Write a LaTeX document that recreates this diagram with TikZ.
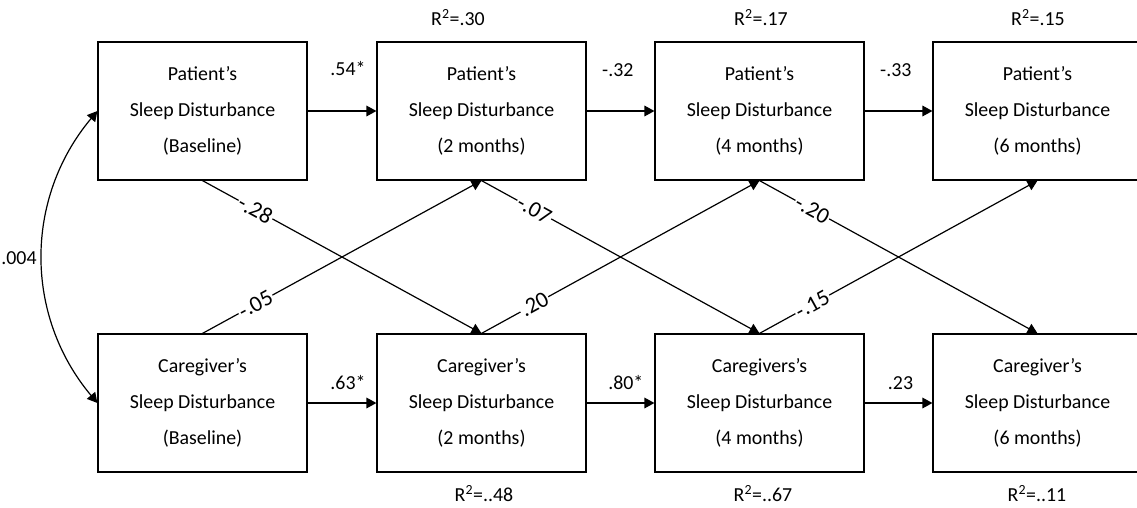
\documentclass[tikz,border=0pt]{standalone}
\usepackage{fontspec}
\setmainfont{Carlito}
\usetikzlibrary{arrows.meta}
\begin{document}
\begin{tikzpicture}[x=0.75pt,y=0.75pt,
  >={Triangle[length=7.5pt,width=8pt]},
  box/.style={draw, line width=0.9pt, minimum width=156.75pt, minimum height=103.5pt,
    align=center, inner sep=0pt, font=\fontsize{14.9}{27}\selectfont},
  conn/.style={->, line width=0.9pt},
  elabel/.style={font=\fontsize{14.9}{18}\selectfont, inner sep=1pt},
  dlabel/.style={font=\fontsize{17}{18}\selectfont, fill=white, inner sep=1pt, sloped, pos=0.19},
  rlabel/.style={font=\fontsize{14.9}{18}\selectfont, inner sep=1pt}]
\useasboundingbox (0,0) rectangle (1137,-507);
\clip (0,0) rectangle (1137,-507);

% patient row
\node[box] (p1) at (202.5,-111) {Patient’s\\Sleep Disturbance\\(Baseline)};
\node[box] (p2) at (481.5,-111) {Patient’s\\Sleep Disturbance\\(2 months)};
\node[box] (p3) at (759.5,-111) {Patient’s\\Sleep Disturbance\\(4 months)};
\node[box] (p4) at (1037.5,-111) {Patient’s\\Sleep Disturbance\\(6 months)};

% caregiver row
\node[box] (c1) at (202.5,-403) {Caregiver’s\\Sleep Disturbance\\(Baseline)};
\node[box] (c2) at (481.5,-403) {Caregiver’s\\Sleep Disturbance\\(2 months)};
\node[box] (c3) at (759.5,-403) {Caregivers’s\\Sleep Disturbance\\(4 months)};
\node[box] (c4) at (1037.5,-403) {Caregiver’s\\Sleep Disturbance\\(6 months)};

% R^2 labels
\node[rlabel] (r2) at (458,-18) {R\textsuperscript{2}=.30};
\node[rlabel] (r3) at (761,-18) {R\textsuperscript{2}=.17};
\node[rlabel] (r4) at (1038,-18) {R\textsuperscript{2}=.15};
\node[rlabel] (s2) at (484,-494) {R\textsuperscript{2}=..48};
\node[rlabel] (s3) at (763,-494) {R\textsuperscript{2}=..67};
\node[rlabel] (s4) at (1037,-494) {R\textsuperscript{2}=..11};

% horizontal paths
\draw[conn] (p1) -- node[elabel, xshift=4.5pt, yshift=32pt] {.54*} (p2);
\draw[conn] (p2) -- node[elabel, xshift=-2pt, yshift=31pt] {-.32} (p3);
\draw[conn] (p3) -- node[elabel, xshift=-2pt, yshift=31pt] {-.33} (p4);
\draw[conn] (c1) -- node[elabel, xshift=4.5pt, yshift=15pt] {.63*} (c2);
\draw[conn] (c2) -- node[elabel, xshift=4pt, yshift=15pt] {.80*} (c3);
\draw[conn] (c3) -- node[elabel, xshift=1.5pt, yshift=15pt] {.23} (c4);

% cross-lagged paths
\draw[conn] (p1.south) -- node[dlabel] {-.28} (c2.north);
\draw[conn] (c1.north) -- node[dlabel] {-.05} (p2.south);
\draw[conn] (p2.south) -- node[dlabel] {-.07} (c3.north);
\draw[conn] (c2.north) -- node[dlabel] {.20} (p3.south);
\draw[conn] (p3.south) -- node[dlabel] {-.20} (c4.north);
\draw[conn] (c3.north) -- node[dlabel] {-.15} (p4.south);

% baseline correlation
\draw[<->, line width=0.9pt] (p1.west) to[out=-130,in=130] (c1.west);
\node[elabel] (cor) at (19,-258) {.004};
\end{tikzpicture}
\end{document}
